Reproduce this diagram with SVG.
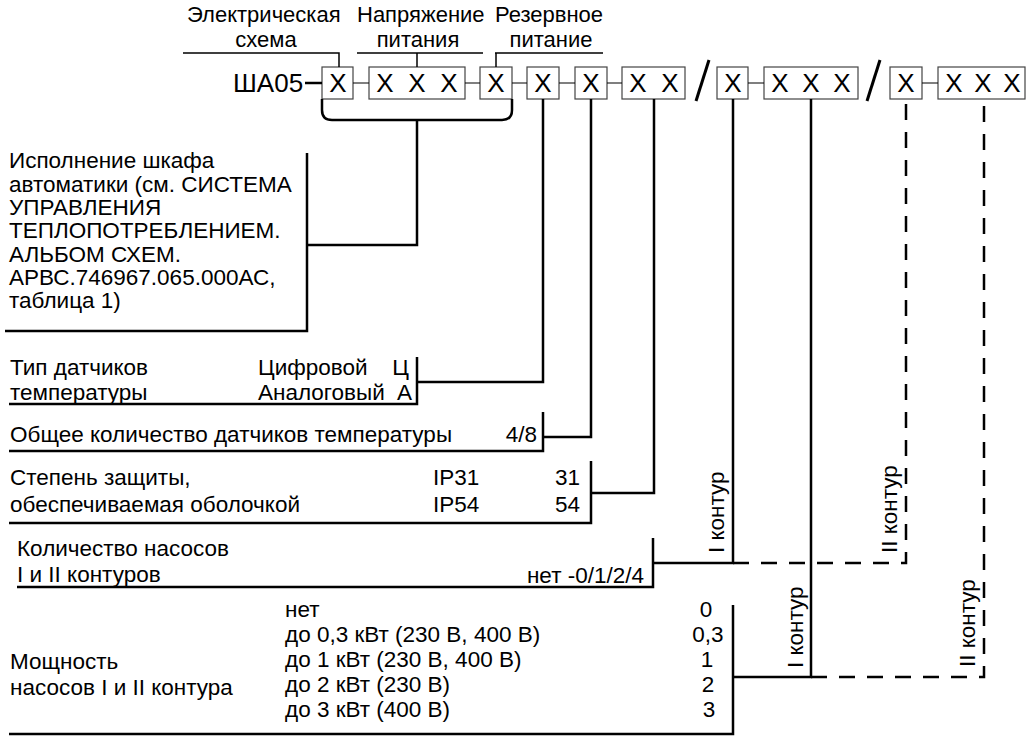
<svg xmlns="http://www.w3.org/2000/svg" width="1033" height="736" viewBox="0 0 1033 736">
<style>
text{font-family:"Liberation Sans",Arial,sans-serif;fill:#000}
.t{font-size:22.5px}
.h{font-size:22px}
.x{font-size:26px;text-anchor:middle}
.box{fill:#fff;stroke:#444;stroke-width:1.2}
.thin{stroke:#000;stroke-width:1.2;fill:none}
.hl{stroke:#000;stroke-width:1.5;fill:none}
.ln{stroke:#000;stroke-width:2.5;fill:none}
.dl{stroke:#000;stroke-width:2.5;fill:none;stroke-dasharray:16 12}
.e{text-anchor:end}
.m{text-anchor:middle}
</style>
<rect width="1033" height="736" fill="#fff"/>
<g id="headers">
<text class="h" x="187" y="22">Электрическая</text>
<text class="h m" x="266" y="47">схема</text>
<text class="h" x="357" y="22">Напряжение</text>
<text class="h m" x="418" y="47">питания</text>
<text class="h" x="495" y="22">Резервное</text>
<text class="h m" x="551" y="47">питание</text>
</g>
<g id="code">
<text x="233" y="92" style="font-size:26px">ША05</text>
<g id="b1"><rect class="box" x="322" y="67" width="31" height="32"/><text class="x" x="338" y="92">X</text></g>
<g id="b2"><rect class="box" x="369" y="67" width="96" height="32"/><text class="x" x="385" y="92">X</text><text class="x" x="417" y="92">X</text><text class="x" x="449" y="92">X</text></g>
<g id="b3"><rect class="box" x="480" y="67" width="32" height="32"/><text class="x" x="496" y="92">X</text></g>
<g id="b4"><rect class="box" x="527" y="67" width="32" height="32"/><text class="x" x="543" y="92">X</text></g>
<g id="b5"><rect class="box" x="575" y="67" width="32" height="32"/><text class="x" x="591" y="92">X</text></g>
<g id="b6"><rect class="box" x="622" y="67" width="63" height="32"/><text class="x" x="638" y="92">X</text><text class="x" x="670" y="92">X</text></g>
<g id="b7"><rect class="box" x="717" y="67" width="31" height="32"/><text class="x" x="733" y="92">X</text></g>
<g id="b8"><rect class="box" x="764" y="67" width="94" height="32"/><text class="x" x="780" y="92">X</text><text class="x" x="811" y="92">X</text><text class="x" x="842" y="92">X</text></g>
<g id="b9"><rect class="box" x="890" y="67" width="32" height="32"/><text class="x" x="906" y="92">X</text></g>
<g id="b10"><rect class="box" x="938" y="67" width="87" height="32"/><text class="x" x="954" y="92">X</text><text class="x" x="983" y="92">X</text><text class="x" x="1012" y="92">X</text></g>
<line x1="696" y1="101" x2="709" y2="60" stroke="#000" stroke-width="3"/>
<line x1="867" y1="101" x2="880" y2="60" stroke="#000" stroke-width="3"/>
</g>
<g id="n-ispolnenie">
<text class="t" x="9" y="168">Исполнение шкафа</text>
<text class="t" x="9" y="192">автоматики (см. СИСТЕМА</text>
<text class="t" x="9" y="215">УПРАВЛЕНИЯ</text>
<text class="t" x="9" y="238">ТЕПЛОПОТРЕБЛЕНИЕМ.</text>
<text class="t" x="9" y="262">АЛЬБОМ СХЕМ.</text>
<text class="t" x="9" y="285">АРВС.746967.065.000АС,</text>
<text class="t" x="9" y="308">таблица 1)</text>
</g>
<g id="n-tip">
<text class="t" x="10" y="375">Тип датчиков</text>
<text class="t" x="10" y="400">температуры</text>
<text class="t" x="258" y="375">Цифровой</text>
<text class="t e" x="409" y="375">Ц</text>
<text class="t" x="258" y="400">Аналоговый</text>
<text class="t e" x="412" y="400">А</text>
</g>
<g id="n-kol">
<text class="t" x="10" y="442">Общее количество датчиков температуры</text>
<text class="t e" x="537" y="442">4/8</text>
</g>
<g id="n-ip">
<text class="t" x="10" y="485">Степень защиты,</text>
<text class="t" x="10" y="512">обеспечиваемая оболочкой</text>
<text class="t" x="433" y="485">IP31</text>
<text class="t" x="433" y="512">IP54</text>
<text class="t e" x="580" y="485">31</text>
<text class="t e" x="580" y="512">54</text>
</g>
<g id="n-nasos">
<text class="t" x="17" y="556">Количество насосов</text>
<text class="t" x="17" y="582">I и II контуров</text>
<text class="t e" x="644" y="583">нет -0/1/2/4</text>
</g>
<g id="n-moshch">
<text class="t" x="10" y="669">Мощность</text>
<text class="t" x="10" y="695">насосов I и II контура</text>
<text class="t" x="285" y="617">нет</text>
<text class="t" x="285" y="642">до 0,3 кВт (230 В, 400 В)</text>
<text class="t" x="285" y="667">до 1 кВт (230 В, 400 В)</text>
<text class="t" x="285" y="692">до 2 кВт (230 В)</text>
<text class="t" x="285" y="717">до 3 кВт (400 В)</text>
<text class="t m" x="706" y="617">0</text>
<text class="t m" x="708" y="642">0,3</text>
<text class="t m" x="707" y="667">1</text>
<text class="t m" x="708" y="692">2</text>
<text class="t m" x="709" y="717">3</text>
</g>
<g id="contour-labels">
<text class="t" transform="translate(724,553) rotate(-90)">I контур</text>
<text class="t" transform="translate(803,668) rotate(-90)">I контур</text>
<text class="t" transform="translate(897,553) rotate(-90)">II контур</text>
<text class="t" transform="translate(975,667) rotate(-90)">II контур</text>
</g>
<g id="connectors">
<path class="hl" d="M183,53 H339 V67 M357,53 H483 M417,53 V67 M495,53 H603 M496,53 V67"/>
<path class="ln" d="M305,83 H322"/>
<path class="thin" d="M353,83 H369 M465,83 H480 M512,83 H527 M559,83 H575 M607,83 H622 M748,83 H764 M922,83 H938"/>
<path class="ln" d="M322,99 V110 Q322,120 332,120 H502 Q512,120 512,110 V99"/>
<path class="ln" d="M417,120 V245 H307 M307,153 V331 H5"/>
<path class="ln" d="M543,99 V382 H417 M417,357 V404 H9"/>
<path class="ln" d="M591,99 V437 H543 M543,412 V451 H9"/>
<path class="ln" d="M654,99 V493 H591 M591,461 V523 H9"/>
<path class="ln" d="M733,99 V563 H653 M653,538 V587 H17"/>
<path class="ln" d="M811,99 V677 H733 M733,605 V734 H9"/>
<path class="dl" d="M733,563 H906 V99"/>
<path class="dl" d="M811,677 H984 V99"/>
</g>
</svg>
